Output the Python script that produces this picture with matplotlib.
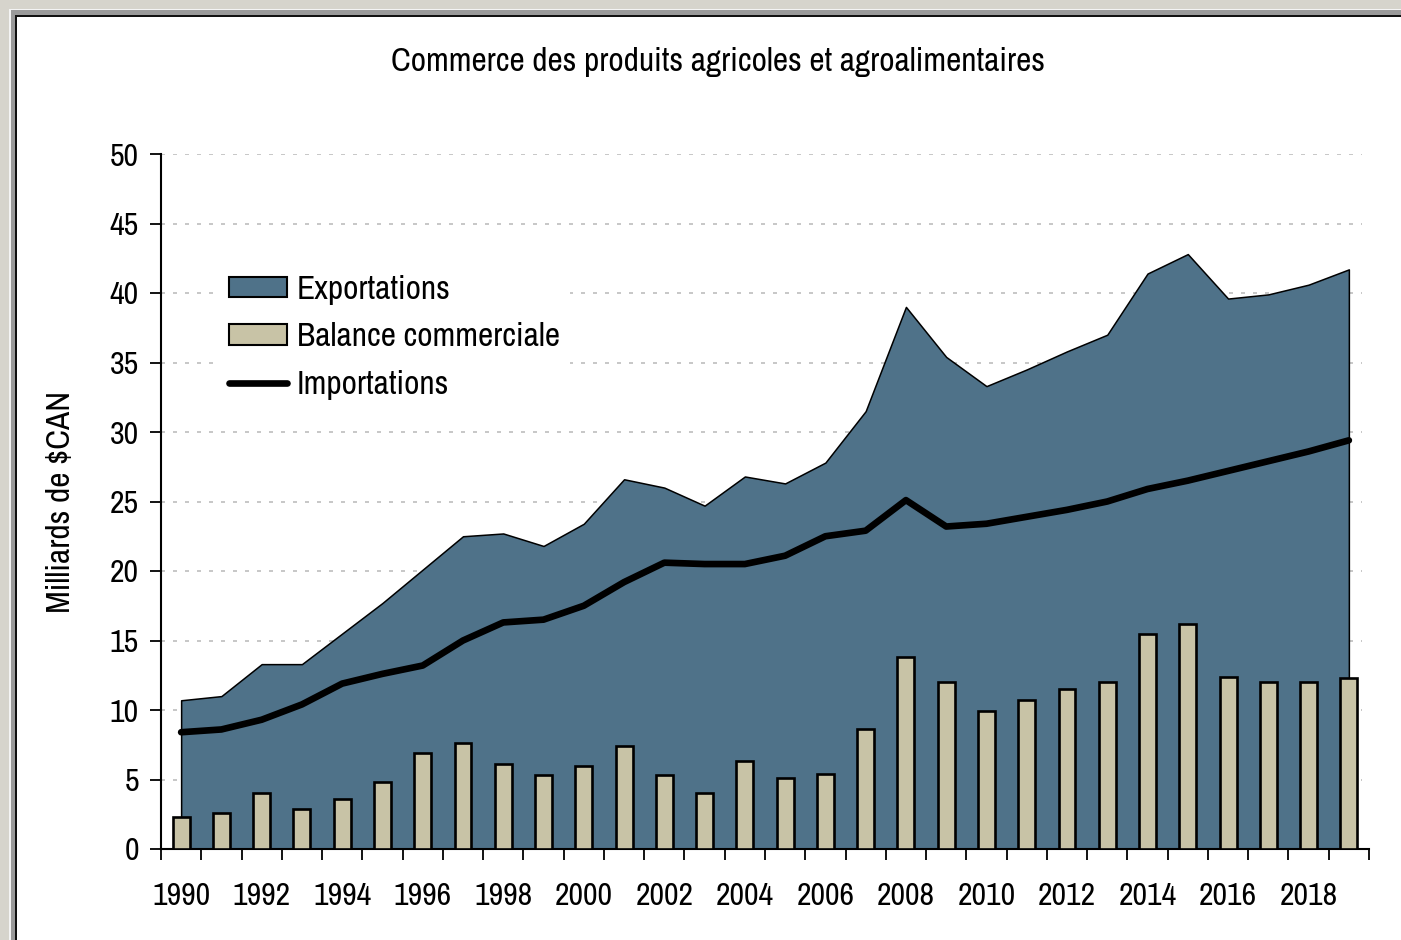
import matplotlib
matplotlib.use('Agg')
import matplotlib.pyplot as plt
from matplotlib import font_manager
from matplotlib.font_manager import FontProperties
from matplotlib.patches import Patch, Rectangle
from matplotlib.lines import Line2D
import numpy as np

# ── Data (milliards de $CAN) ─────────────────────────────────────────────────
years = list(range(1990, 2020))
exportations = [10.7, 11.0, 13.3, 13.3, 15.5, 17.7, 20.1, 22.5, 22.7, 21.8,
                23.4, 26.6, 26.0, 24.7, 26.8, 26.3, 27.8, 31.5, 39.0, 35.4,
                33.3, 34.5, 35.8, 37.0, 41.4, 42.8, 39.6, 39.9, 40.6, 41.7]
importations = [8.4, 8.6, 9.3, 10.4, 11.9, 12.6, 13.2, 15.0, 16.3, 16.5,
                17.5, 19.2, 20.6, 20.5, 20.5, 21.1, 22.5, 22.9, 25.1, 23.2,
                23.4, 23.9, 24.4, 25.0, 25.9, 26.5, 27.2, 27.9, 28.6, 29.4]
balance = [2.3, 2.6, 4.0, 2.9, 3.6, 4.8, 6.9, 7.6, 6.1, 5.3,
           6.0, 7.4, 5.3, 4.0, 6.3, 5.1, 5.4, 8.6, 13.8, 12.0,
           9.9, 10.7, 11.5, 12.0, 15.5, 16.2, 12.4, 12.0, 12.0, 12.3]
yticks = [0, 5, 10, 15, 20, 25, 30, 35, 40, 45, 50]

BLUE = '#4F7289'
BEIGE = '#C8C3A6'


# ── Font: prefer a narrow/condensed sans, else plain Liberation Sans ─────────
def pick_font():
    entries = font_manager.fontManager.ttflist
    def ok(e):
        return e.style == 'normal' and e.weight in (400, 'normal', 'regular')
    for e in entries:
        if ok(e) and 'narrow' in e.name.lower() and 'liberation' in e.name.lower():
            return e.fname, True
    for e in entries:
        base = e.fname.lower().split('/')[-1]
        if ok(e) and ('narrow' in base) and 'bold' not in base and 'italic' not in base:
            return e.fname, True
    for key in ('dejavusanscondensed.ttf', 'notosans-condensed.ttf',
                'notosans_condensed-regular.ttf', 'notosans-condensedregular.ttf'):
        for e in entries:
            if e.fname.lower().split('/')[-1] == key:
                return e.fname, True
    for e in entries:
        base = e.fname.lower().split('/')[-1]
        if ok(e) and 'condensed' in base and 'bold' not in base and 'italic' not in base \
                and 'light' not in base and 'semi' not in base and 'extra' not in base \
                and 'mono' not in base and 'serif' not in base:
            return e.fname, True
    return font_manager.findfont('Liberation Sans'), False


font_path, narrow = pick_font()
scale = 1.0 if narrow else 0.85
fp = FontProperties(fname=font_path, size=24 * scale)       # title, legend, y label
fp_tick = FontProperties(fname=font_path, size=23 * scale)  # tick labels

x = np.arange(len(years))

fig = plt.figure(figsize=(14.01, 9.40), dpi=100)

# ── Outer frame (top / left only) ────────────────────────────────────────────
W, H = 1401, 940
def frect(x0, y0, w, h, color):
    fig.patches.append(Rectangle((x0 / W, 1 - (y0 + h) / H), w / W, h / H,
                                 transform=fig.transFigure, facecolor=color,
                                 edgecolor='none', zorder=-10))
frect(0, 0, W, 9, '#D6D4CC')
frect(0, 0, 9, H, '#D6D4CC')
frect(9, 9, W, 1.5, '#F4F4F4')
frect(9, 9, 1.5, H, '#F4F4F4')
frect(10.5, 10.5, W, 4.5, '#9A9A9A')
frect(10.5, 10.5, 4.5, H, '#9A9A9A')
frect(15, 15, W, 1.8, '#111111')
frect(15, 15, 1.8, H, '#111111')

ax = fig.add_axes([161 / W, 1 - 849 / H, (1369 - 161) / W, (849 - 154) / H])
ax.set_facecolor('none')

# dotted grid, stops just short of the right end
for v in yticks[1:]:
    ax.hlines(v, -0.5, 29.32, colors='#BDBDBD', linewidth=1.2,
              linestyles=(0, (2.4, 4.8)), zorder=0)

ax.fill_between(x, 0, exportations, facecolor=BLUE, edgecolor='black',
                linewidth=1.1, zorder=2)
ax.bar(x, balance, width=0.42, color=BEIGE, edgecolor='black',
       linewidth=1.9, zorder=3)
ax.plot(x, importations, color='black', linewidth=4.8, solid_capstyle='round',
        solid_joinstyle='round', zorder=4)

ax.set_xlim(-0.5, len(years) - 0.5)
ax.set_ylim(0, 50)
ax.spines['top'].set_visible(False)
ax.spines['right'].set_visible(False)
ax.spines['left'].set_linewidth(1.5)
ax.spines['bottom'].set_linewidth(1.5)

ax.set_yticks(yticks)
ax.set_yticklabels([str(v) for v in yticks], fontproperties=fp_tick)
ax.tick_params(axis='y', direction='out', length=8, width=1.3, pad=8)

ax.set_xticks(x[::2])
ax.set_xticklabels([str(y) for y in years[::2]], fontproperties=fp_tick)
ax.set_xticks(np.arange(-0.5, len(years)), minor=True)
ax.tick_params(axis='x', which='major', length=0, pad=24)
ax.tick_params(axis='x', which='minor', direction='out', length=8, width=1.3)

ax.set_ylabel('Milliards de $CAN', fontproperties=fp, labelpad=24)

fig.text(718 / W, 1 - 62 / H, 'Commerce des produits agricoles et agroalimentaires',
         ha='center', va='center', fontproperties=fp)

handles = [Patch(facecolor=BLUE, edgecolor='black', linewidth=1.5),
           Patch(facecolor=BEIGE, edgecolor='black', linewidth=1.5),
           Line2D([], [], color='black', linewidth=4.8, solid_capstyle='round')]
leg = ax.legend(handles, ['Exportations', 'Balance commerciale', 'Importations'],
                loc='upper left', bbox_to_anchor=(219 / W, 1 - 265 / H),
                bbox_transform=fig.transFigure, prop=fp, frameon=True,
                facecolor='white', edgecolor='none', framealpha=1,
                fancybox=False, handlelength=1.74, handleheight=0.57,
                handletextpad=0.3, labelspacing=0.52, borderpad=0.3,
                borderaxespad=0)
leg.set_zorder(5)

fig.savefig('out.png', dpi=100)
